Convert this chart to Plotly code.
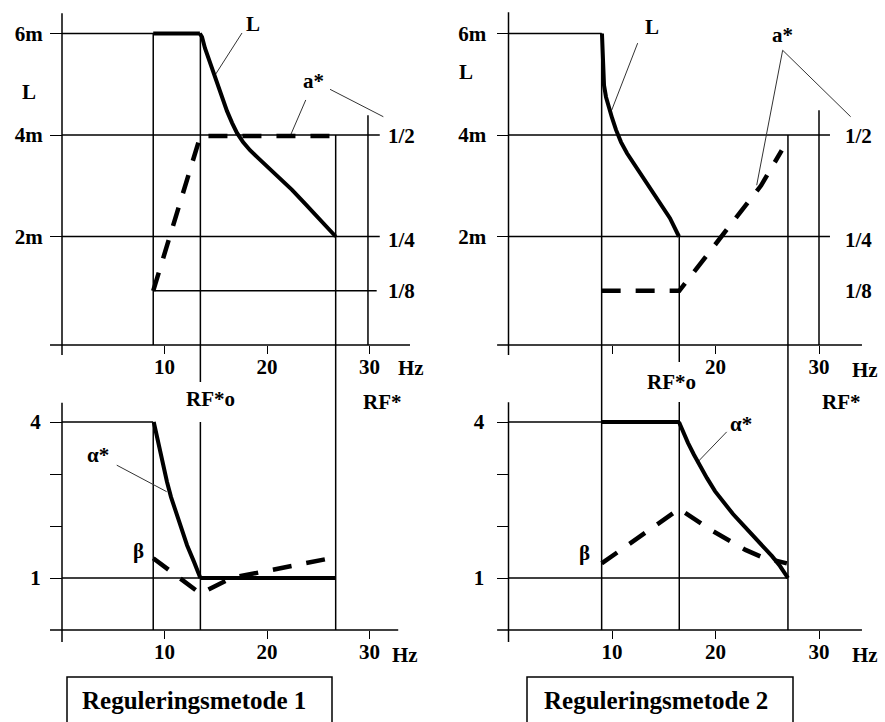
import plotly.graph_objects as go

W, H = 885, 722
FONT = "'Liberation Serif', 'Times New Roman', Times, serif"
INK = "black"

# ---------------- data ----------------
# Method 1, rope length L [m] and load factor a* versus frequency [Hz]
m1_L_flat_hz = [8.9, 13.45]
m1_L_flat = [6.0, 6.0]
m1_L_hz = [13.45, 13.66, 13.95, 14.34, 14.73, 15.12, 15.61, 16.10, 16.59, 17.07,
           17.66, 18.34, 19.12, 20.10, 21.27, 22.44, 23.71, 24.98, 26.7]
m1_L = [6.0, 5.93, 5.71, 5.48, 5.24, 5.01, 4.73, 4.47, 4.24, 4.04,
        3.86, 3.70, 3.55, 3.37, 3.15, 2.92, 2.65, 2.37, 2.0]
m1_a_hz = [8.9, 13.5, 26.6]
m1_a = [0.125, 0.5, 0.5]

# Method 2, rope length L [m] and a*
m2_L_hz = [9.03, 9.08, 9.13, 9.23, 9.42, 9.71, 10.0, 10.39, 10.87, 11.45,
           12.13, 12.90, 13.77, 14.64, 15.6, 16.47]
m2_L = [6.0, 5.67, 5.28, 4.98, 4.75, 4.53, 4.34, 4.10, 3.86, 3.64,
        3.43, 3.19, 2.94, 2.66, 2.36, 2.0]
m2_a_hz = [9.0, 16.5, 24.4, 26.4]
m2_a = [0.125, 0.125, 0.38, 0.465]

# Method 1, alpha* and beta
m1_alpha_hz = [8.95, 9.27, 9.56, 9.85, 10.24, 10.63, 11.12, 11.61, 12.2, 12.88, 13.5]
m1_alpha = [4.0, 3.71, 3.42, 3.13, 2.85, 2.56, 2.27, 1.98, 1.63, 1.31, 1.0]
m1_alpha_flat_hz = [13.5, 26.7]
m1_alpha_flat = [1.0, 1.0]
m1_beta_hz = [8.9, 13.5, 16.5, 26.7]
m1_beta = [1.38, 0.70, 1.0, 1.40]

# Method 2, alpha* and beta
m2_alpha_flat_hz = [9.0, 16.47]
m2_alpha_flat = [4.0, 4.0]
m2_alpha_hz = [16.47, 16.86, 17.34, 17.92, 18.50, 19.18, 19.95, 20.82, 21.69,
               22.66, 23.62, 24.59, 25.46, 26.23, 27.0]
m2_alpha = [4.0, 3.81, 3.60, 3.37, 3.15, 2.92, 2.67, 2.44, 2.23,
            2.02, 1.81, 1.62, 1.42, 1.23, 1.0]
m2_beta_hz = [9.0, 16.5, 19.6, 22.9, 24.5, 26.9]
m2_beta = [1.28, 2.33, 1.92, 1.54, 1.40, 1.28]

# axis ticks
hz_ticks = [10, 20, 30]
L_ticks = [2, 4, 6]
L_tick_text = ["2m", "4m", "6m"]
a_ticks = [0.125, 0.25, 0.5]
a_tick_text = ["1/8", "1/4", "1/2"]
ab_ticks = [1, 2, 3, 4]
ab_tick_text = ["1", "", "", "4"]

# ---------------- layout geometry ----------------
X_LEFT = dict(domain=[0, 443 / W], range=[-6.049, 37.17])
X_RIGHT = dict(domain=[443 / W, 1], range=[-6.329, 36.377])
Y_TOP = dict(domain=[1 - 395 / H, 1], range=[-1.1232, 6.6601])
Y_BOT = dict(domain=[0, 1 - 395 / H], range=[-1.7692, 4.5192])
A_RANGE = [-0.12709, 0.82910]
L_MIN, V_MAX = Y_TOP["range"][0], Y_BOT["range"][1]
L_AXIS = -0.138  # frequency axis level in the upper panels

tick_font = dict(family=FONT, size=21, color=INK, weight="bold")
lab_font = dict(family=FONT, size=21, color=INK, weight="bold")

fig = go.Figure()

thick = dict(color=INK, width=4)
dashed = dict(color=INK, width=4.5, dash="19px,15px")


def curve(x, y, xa, ya, line):
    fig.add_trace(go.Scatter(x=x, y=y, xaxis=xa, yaxis=ya, mode="lines",
                             line=line, hoverinfo="skip", showlegend=False))


curve(m1_L_flat_hz, m1_L_flat, "x", "y", thick)
curve(m1_L_hz, m1_L, "x", "y", thick)
curve(m1_a_hz, m1_a, "x", "y5", dashed)

curve(m2_L_hz, m2_L, "x2", "y2", thick)
curve(m2_a_hz, m2_a, "x2", "y6", dashed)

curve(m1_alpha_hz, m1_alpha, "x3", "y3", thick)
curve(m1_alpha_flat_hz, m1_alpha_flat, "x3", "y3", thick)
curve(m1_beta_hz, m1_beta, "x3", "y3", dashed)

curve(m2_alpha_flat_hz, m2_alpha_flat, "x4", "y4", thick)
curve(m2_alpha_hz, m2_alpha, "x4", "y4", thick)
curve(m2_beta_hz, m2_beta, "x4", "y4", dashed)

# ---------------- reference lines and axis lines ----------------
shapes = []


def seg(xr, yr, x0, y0, x1, y1, width=1.5, color=INK):
    shapes.append(dict(type="line", xref=xr, yref=yr, x0=x0, y0=y0, x1=x1, y1=y1,
                       line=dict(color=color, width=width), layer="below"))


# upper left
seg("x", "y", -1.17, L_AXIS, 33.95, L_AXIS)
seg("x", "y", 0, -0.335, 0, 6.40)
seg("x", "y", 0, 6, 13.5, 6)
seg("x", "y", 0, 4, 31.0, 4)
seg("x", "y", 0, 2, 31.0, 2)
seg("x", "y5", 8.9, 0.125, 30.7, 0.125)
seg("x", "y", 8.9, 6, 8.9, L_AXIS)
seg("x", "y", 13.5, 6, 13.5, -0.867)
seg("x", "y", 26.7, 4, 26.7, L_MIN)
seg("x", "y", 29.85, 4.39, 29.85, L_AXIS)
# upper right
seg("x2", "y2", -1.1, L_AXIS, 34.15, L_AXIS)
seg("x2", "y2", 0, -0.335, 0, 6.42)
seg("x2", "y2", 0, 6, 9.0, 6)
seg("x2", "y2", 0, 4, 31.06, 4)
seg("x2", "y2", 0, 2, 31.06, 2)
seg("x2", "y2", 9.0, 6, 9.0, L_MIN)
seg("x2", "y2", 16.5, 2, 16.5, -0.473)
seg("x2", "y2", 27.0, 4, 27.0, L_MIN)
seg("x2", "y2", 30.0, 4.49, 30.0, L_AXIS)
# lower left
seg("x3", "y3", -1.17, 0, 32.8, 0)
seg("x3", "y3", 0, -0.23, 0, 4.37)
seg("x3", "y3", 0, 4, 8.9, 4)
seg("x3", "y3", 0, 1, 13.5, 1)
seg("x3", "y3", 8.9, 4, 8.9, 0)
seg("x3", "y3", 13.5, 4, 13.5, 0)
seg("x3", "y3", 26.7, V_MAX, 26.7, 0)
# lower right
seg("x4", "y4", -1.1, 0, 34.15, 0)
seg("x4", "y4", 0, -0.23, 0, 4.38)
seg("x4", "y4", 0, 4, 16.5, 4)
seg("x4", "y4", 0, 1, 27.0, 1)
seg("x4", "y4", 9.0, V_MAX, 9.0, 0)
seg("x4", "y4", 16.5, 4.385, 16.5, 0)
seg("x4", "y4", 27.0, V_MAX, 27.0, 0)

# leader lines from the labels to the curves
lead = dict(width=1, color="#333333")
seg("x", "y", 17.56, 6.01, 14.93, 5.18, **lead)
seg("x", "y", 23.78, 4.69, 22.24, 3.97, **lead)
seg("x", "y", 26.15, 4.90, 31.35, 4.36, **lead)
seg("x2", "y2", 12.48, 5.81, 9.97, 4.49, **lead)
seg("x2", "y2", 26.49, 5.67, 23.98, 3.01, **lead)
seg("x2", "y2", 26.49, 5.67, 33.06, 4.36, **lead)
seg("x3", "y3", 5.34, 3.17, 10.21, 2.66, **lead)
seg("x4", "y4", 21.08, 3.81, 18.18, 3.21, **lead)

# method captions framed at the bottom
for x0, x1 in [(67, 332), (527, 793)]:
    shapes.append(dict(type="rect", xref="paper", yref="paper",
                       x0=x0 / W, x1=x1 / W, y0=-0.05, y1=1 - 677 / H,
                       line=dict(color=INK, width=1.5), fillcolor="rgba(0,0,0,0)"))

# ---------------- text labels ----------------
ann = []


def label(text, xr, yr, x, y, size=21):
    ann.append(dict(text=text, xref=xr, yref=yr, x=x, y=y, showarrow=False,
                    font=dict(lab_font, size=size), xanchor="center", yanchor="middle"))


label("L", "x", "y", -3.2, 4.85)
label("L", "x", "y", 18.6, 6.19)
label("a*", "x", "y", 24.5, 5.06)
label("Hz", "x", "y", 34.05, -0.59)
label("L", "x2", "y2", -4.1, 5.24)
label("L", "x2", "y2", 13.86, 6.13)
label("a*", "x2", "y2", 26.43, 5.97)
label("RF*o", "x2", "y2", 15.7, -0.867)
label("Hz", "x2", "y2", 34.44, -0.63)
label("RF*o", "x3", "y3", 14.44, 4.44)
label("RF*", "x3", "y3", 31.3, 4.385)
label("α*", "x3", "y3", 3.51, 3.37)
label("β", "x3", "y3", 7.51, 1.52)
label("Hz", "x3", "y3", 33.46, -0.48)
label("RF*", "x4", "y4", 32.22, 4.385)
label("α*", "x4", "y4", 22.45, 3.96)
label("β", "x4", "y4", 7.39, 1.48)
label("Hz", "x4", "y4", 34.44, -0.48)
label("Reguleringsmetode 1", "paper", "paper", 194 / W, 1 - 700 / H, size=25)
label("Reguleringsmetode 2", "paper", "paper", 656 / W, 1 - 700 / H, size=25)

# ---------------- axes ----------------
common = dict(showgrid=False, zeroline=False, showline=False, tickfont=tick_font,
              tickcolor=INK, tickwidth=1.3, fixedrange=True)


def xaxis(base, pos, text):
    return dict(common, **base, anchor="free", position=pos, tickvals=hz_ticks,
                ticktext=text, ticks="outside", ticklen=8, ticklabelstandoff=-5)


def yaxis(base, pos, vals, text, standoff):
    return dict(common, **base, anchor="free", position=pos, tickvals=vals,
                ticktext=text, ticks="outside", ticklen=12, ticklabelstandoff=standoff)


def aaxis(over, pos):
    return dict(common, overlaying=over, side="right", anchor="free", position=pos,
                range=A_RANGE, tickvals=a_ticks, ticktext=a_tick_text, ticks="")


hz_text = [str(t) for t in hz_ticks]
fig.update_layout(
    width=W, height=H, margin=dict(l=0, r=0, t=0, b=0),
    paper_bgcolor="white", plot_bgcolor="white", showlegend=False,
    xaxis=xaxis(X_LEFT, 1 - 345 / H, hz_text),
    xaxis2=xaxis(X_RIGHT, 1 - 345 / H, [""] + hz_text[1:]),
    xaxis3=xaxis(X_LEFT, 1 - 630 / H, hz_text),
    xaxis4=xaxis(X_RIGHT, 1 - 630 / H, hz_text),
    yaxis=yaxis(Y_TOP, 62 / W, L_ticks, L_tick_text, 3),
    yaxis2=yaxis(Y_TOP, 508.5 / W, L_ticks, L_tick_text, 6),
    yaxis3=yaxis(Y_BOT, 62 / W, ab_ticks, ab_tick_text, 5),
    yaxis4=yaxis(Y_BOT, 508.5 / W, ab_ticks, ab_tick_text, 8),
    yaxis5=aaxis("y", 387 / W),
    yaxis6=aaxis("y2", 844 / W),
    shapes=shapes, annotations=ann,
)

fig.write_html("out.html")
